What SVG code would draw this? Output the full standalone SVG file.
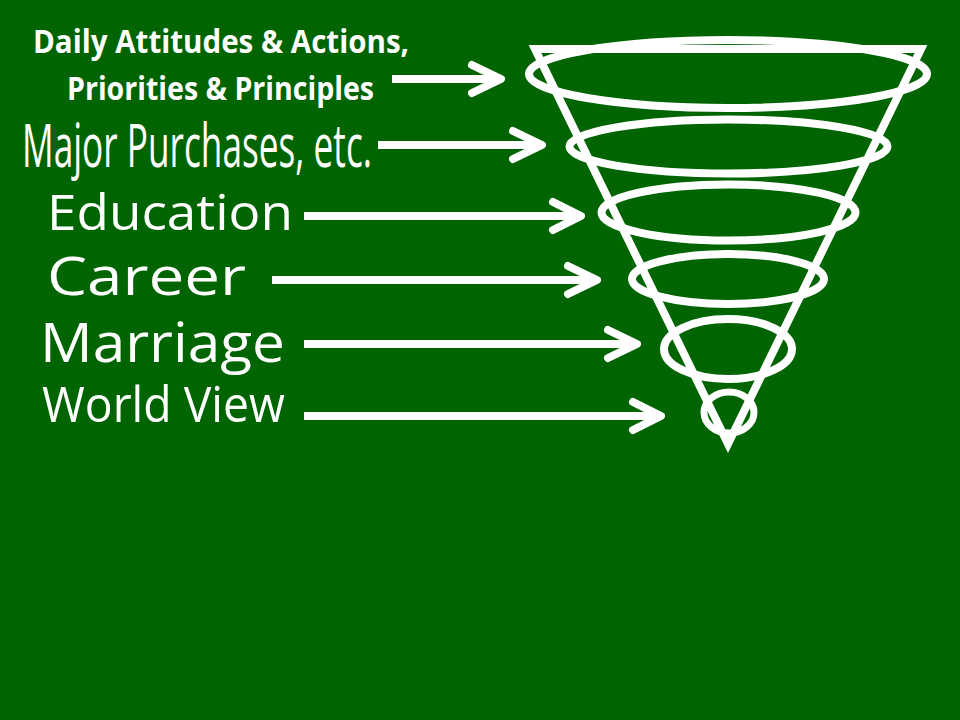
<svg xmlns="http://www.w3.org/2000/svg" width="960" height="720" viewBox="0 0 960 720">
  <style>
    .bg { fill: #006400; }
    .lbl { fill: #ffffff; font-family: "Open Sans", "DejaVu Sans", sans-serif; }
    .bold { font-weight: bold; }
    .ring { fill: none; stroke: #ffffff; stroke-width: 8; }
    .cone { fill: none; stroke: #ffffff; stroke-width: 8; stroke-linejoin: miter; }
    .shaft { fill: none; stroke: #ffffff; stroke-width: 8; stroke-linecap: butt; }
    .head { fill: none; stroke: #ffffff; stroke-width: 8; stroke-linecap: round; stroke-linejoin: round; }
  </style>
  <rect class="bg" x="0" y="0" width="960" height="720"/>

  <g id="funnel">
    <polygon class="cone" points="535,49 921,49 728,444"/>
    <ellipse class="ring" cx="728" cy="74" rx="199" ry="34"/>
    <ellipse class="ring" cx="728.5" cy="146.5" rx="159" ry="27"/>
    <ellipse class="ring" cx="728.5" cy="212.5" rx="127" ry="28"/>
    <ellipse class="ring" cx="728" cy="279" rx="96" ry="25"/>
    <ellipse class="ring" cx="728" cy="349" rx="64" ry="30"/>
    <ellipse class="ring" cx="729" cy="412.5" rx="25" ry="20.5" style="stroke-width:7"/>
  </g>

  <g id="label-daily">
    <text class="lbl bold" x="33" y="53" font-size="33" textLength="376" lengthAdjust="spacingAndGlyphs">Daily Attitudes &amp; Actions,</text>
    <text class="lbl bold" x="67" y="100" font-size="33" textLength="307" lengthAdjust="spacingAndGlyphs">Priorities &amp; Principles</text>
  </g>
  <g id="label-major">
    <text class="lbl" x="22" y="167" font-size="61" textLength="350" lengthAdjust="spacingAndGlyphs">Major Purchases, etc.</text>
  </g>
  <g id="label-education">
    <text class="lbl" x="47" y="230" font-size="49" textLength="246" lengthAdjust="spacingAndGlyphs">Education</text>
  </g>
  <g id="label-career">
    <text class="lbl" x="47" y="295" font-size="53" textLength="199" lengthAdjust="spacingAndGlyphs">Career</text>
  </g>
  <g id="label-marriage">
    <text class="lbl" x="40" y="362" font-size="54" textLength="245" lengthAdjust="spacingAndGlyphs">Marriage</text>
  </g>
  <g id="label-worldview">
    <text class="lbl" x="42" y="422" font-size="50" textLength="243" lengthAdjust="spacingAndGlyphs">World View</text>
  </g>

  <g id="connectors">
    <line class="shaft" x1="392" y1="79" x2="498" y2="79"/>
    <polyline class="head" points="472,65 501,79 472,93"/>

    <line class="shaft" x1="378" y1="145" x2="539" y2="145"/>
    <polyline class="head" points="513,131 542,145 513,159"/>

    <line class="shaft" x1="304" y1="216" x2="578" y2="216"/>
    <polyline class="head" points="553,202 581,216 553,230"/>

    <line class="shaft" x1="272" y1="280" x2="594" y2="280"/>
    <polyline class="head" points="568,266 597,280 568,294"/>

    <line class="shaft" x1="304" y1="344" x2="634" y2="344"/>
    <polyline class="head" points="608,330 637,344 608,358"/>

    <line class="shaft" x1="304" y1="416" x2="658" y2="416"/>
    <polyline class="head" points="633,402 661,416 633,430"/>
  </g>
</svg>
